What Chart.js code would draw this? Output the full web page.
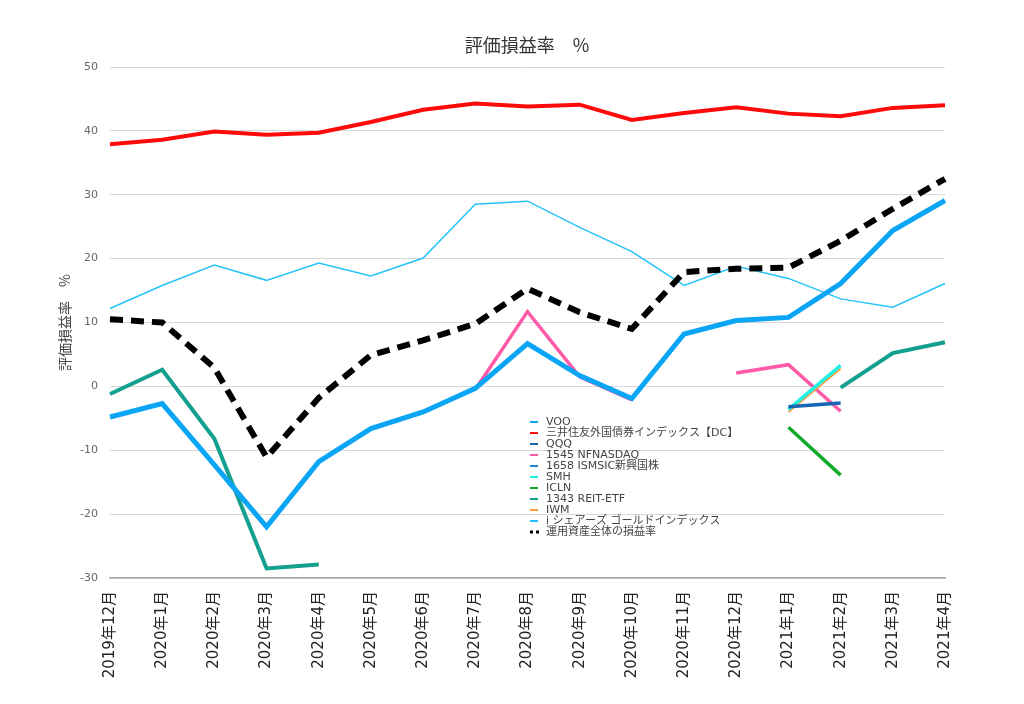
<!DOCTYPE html>
<html lang="ja">
<head>
<meta charset="utf-8">
<title>評価損益率 %</title>
<script src="https://cdn.jsdelivr.net/npm/chart.js@4/dist/chart.umd.min.js"></script>
<style>
  html, body { margin: 0; padding: 0; background: #fff; }
  canvas { display: block; }
</style>
</head>
<body>
<canvas id="myChart" width="1024" height="704"></canvas>
<script>
const months = ['2019年12月', '2020年1月', '2020年2月', '2020年3月', '2020年4月', '2020年5月',
  '2020年6月', '2020年7月', '2020年8月', '2020年9月', '2020年10月', '2020年11月',
  '2020年12月', '2021年1月', '2021年2月', '2021年3月', '2021年4月'];

const voo = [-4.8, -2.7, -12.3, -22.0, -11.8, -6.6, -4.0, -0.3, 6.7, 1.7, -1.9, 8.2, 10.3, 10.8, 16.1, 24.4, 29.1];
const smtBond = [37.9, 38.6, 39.9, 39.4, 39.7, 41.4, 43.3, 44.3, 43.8, 44.1, 41.7, 42.8, 43.7, 42.7, 42.3, 43.6, 44.0];
const qqq = [null, null, null, null, null, null, null, null, null, null, null, null, null, -3.2, -2.6, null, null];
const nfnasdaq = [null, null, null, null, null, null, null, -0.5, 11.7, 1.5, -2.1, null, 2.1, 3.4, -3.9, null, null];
const ismsic = [null, null, null, null, null, null, null, null, null, null, null, null, null, null, null, null, null];
const smh = [null, null, null, null, null, null, null, null, null, null, null, null, null, -3.6, 3.3, null, null];
const icln = [null, null, null, null, null, null, null, null, null, null, null, null, null, -6.4, -13.9, null, null];
const reit = [-1.2, 2.6, -8.2, -28.5, -27.9, null, null, null, null, null, null, null, null, null, -0.2, 5.2, 6.9];
const iwm = [null, null, null, null, null, null, null, null, null, null, null, null, null, -4.0, 2.8, null, null];
const gold = [12.2, 15.8, 19.0, 16.6, 19.3, 17.3, 20.1, 28.5, 29.0, 24.9, 21.1, 15.8, 18.8, 16.9, 13.7, 12.4, 16.1];
const total = [10.5, 10.0, 2.9, -11.1, -1.8, 4.9, 7.2, 9.8, 15.3, 11.6, 9.0, 17.9, 18.4, 18.6, 22.8, 27.8, 32.5];

const yTicks = [-30, -20, -10, 0, 10, 20, 30, 40, 50];

const jpFont = '"Noto Sans CJK JP", sans-serif';
const mixFont = '"DejaVu Sans", "Noto Sans CJK JP", sans-serif';

function line(label, data, color, width, extra) {
  return Object.assign({
    label: label,
    data: data,
    borderColor: color,
    backgroundColor: color,
    borderWidth: width,
    pointRadius: 0,
    pointHoverRadius: 0,
    tension: 0,
    fill: false,
    order: 2
  }, extra || {});
}

// legend drawn in the middle of the plot, like the original
const midLegend = {
  id: 'midLegend',
  afterDraw(chart) {
    const ctx = chart.ctx;
    const area = chart.chartArea;
    const x0 = area.left + 420;
    let y = area.top + 355;
    ctx.save();
    ctx.font = '11px ' + mixFont;
    ctx.textBaseline = 'middle';
    ctx.textAlign = 'left';
    chart.data.datasets.forEach(ds => {
      ctx.beginPath();
      ctx.strokeStyle = ds.borderColor;
      if (ds.borderDash) {
        ctx.lineWidth = 3;
        ctx.setLineDash([3, 3]);
        ctx.moveTo(x0, y);
        ctx.lineTo(x0 + 9, y);
      } else {
        ctx.lineWidth = 2;
        ctx.setLineDash([]);
        ctx.moveTo(x0, y);
        ctx.lineTo(x0 + 8, y);
      }
      ctx.stroke();
      ctx.setLineDash([]);
      ctx.fillStyle = '#444';
      ctx.fillText(ds.label, x0 + 16, y + 0.5);
      y += 11;
    });
    ctx.restore();
  }
};

const ctx = document.getElementById('myChart');

new Chart(ctx, {
  type: 'line',
  data: {
    labels: months,
    datasets: [
      line('VOO', voo, '#0aa6f5', 5, { order: 1 }),
      line('三井住友外国債券インデックス【DC】', smtBond, '#ff0a0a', 4),
      line('QQQ', qqq, '#1566b3', 3.5),
      line('1545 NFNASDAQ', nfnasdaq, '#ff5aa8', 3.5, { order: 3 }),
      line('1658 ISMSIC新興国株', ismsic, '#1f82d6', 3.5),
      line('SMH', smh, '#22f0e4', 3.5),
      line('ICLN', icln, '#12aa2c', 3.5),
      line('1343 REIT-ETF', reit, '#14a08e', 4),
      line('IWM', iwm, '#ff9d3c', 2),
      line('i シェアーズ ゴールドインデックス', gold, '#26c3fa', 1.5),
      line('運用資産全体の損益率', total, '#000000', 6, { borderDash: [13, 8], borderCapStyle: 'butt', order: 0 })
    ]
  },
  options: {
    responsive: false,
    animation: false,
    layout: { padding: { left: 30, right: 0, top: 24, bottom: 0 } },
    plugins: {
      legend: { display: false },
      tooltip: { enabled: false },
      title: {
        display: true,
        text: '評価損益率　%',
        color: '#333',
        font: { family: jpFont, size: 18, weight: 'normal', lineHeight: 1.2 },
        padding: { top: 10, bottom: 11.4 }
      }
    },
    scales: {
      x: {
        grid: { display: false },
        border: { display: true, color: '#a8a8a8', width: 1.5 },
        ticks: {
          color: '#222',
          font: { family: mixFont, size: 15 },
          minRotation: 90,
          maxRotation: 90,
          autoSkip: false,
          padding: 5
        },
        afterFit(scale) { scale.height = 126; }
      },
      y: {
        min: -30,
        max: 50,
        afterBuildTicks(scale) { scale.ticks = yTicks.map(v => ({ value: v })); },
        grid: { color: '#d8d8d8', lineWidth: 1, drawTicks: false },
        border: { display: false },
        ticks: {
          color: '#666',
          font: { family: mixFont, size: 11 },
          padding: 12
        },
        title: {
          display: true,
          text: '評価損益率　%',
          color: '#444',
          font: { family: jpFont, size: 14, lineHeight: 1.2 },
          padding: { top: 26.5, bottom: 0 }
        },
        afterFit(scale) { scale.width = 80; }
      },
      y2: {
        type: 'linear',
        position: 'right',
        grid: { display: false },
        border: { display: false },
        ticks: { display: false },
        afterFit(scale) { scale.width = 79; }
      }
    }
  },
  plugins: [midLegend]
});
</script>
</body>
</html>
